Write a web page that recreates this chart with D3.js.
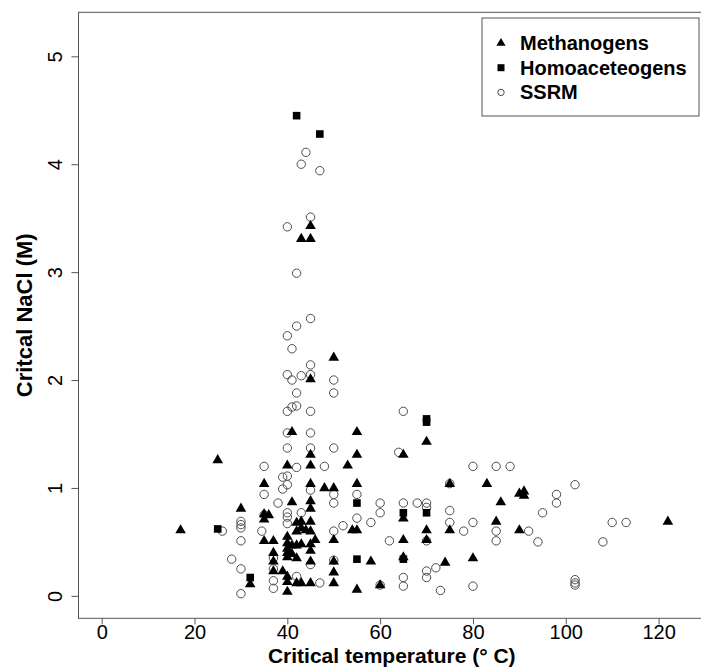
<!DOCTYPE html>
<html>
<head>
<meta charset="utf-8">
<script src="https://cdn.jsdelivr.net/npm/d3@7"></script>
<style>
  body { margin: 0; background: #fff; }
  svg text { font-family: "Liberation Sans", Arial, sans-serif; }
</style>
</head>
<body>
<svg id="chart" width="701" height="668"></svg>
<script>
// [critical temperature (C), critical NaCl (M)]
var methanogens = [
  [17, 0.61], [25, 1.26], [30, 0.81], [32, 0.11], [35, 1.04], [35, 0.76], [36, 0.75], [35, 0.71],
  [35, 0.51], [37, 0.51], [37, 0.40], [37, 0.32], [37, 0.23], [39, 0.23], [40, 1.21], [40, 0.55],
  [40, 0.49], [40, 0.44], [40, 0.40], [40, 0.36], [40, 0.18], [40, 0.13], [40, 0.04], [41, 1.52],
  [41, 0.87], [41, 0.47], [41, 0.39], [42, 0.68], [42, 0.60], [42, 0.47], [42, 0.35], [42, 0.12],
  [43, 3.31], [43, 0.69], [43, 0.63], [43, 0.48], [43, 0.12], [44, 0.61], [45, 3.43], [45, 3.31],
  [45, 2.01], [45, 1.31], [45, 1.21], [45, 1.04], [45, 0.88], [45, 0.81], [45, 0.69], [45, 0.60],
  [45, 0.48], [45, 0.42], [45, 0.32], [45, 0.12], [46, 0.52], [48, 1.00], [50, 2.21], [50, 1.00],
  [50, 0.52], [50, 0.32], [50, 0.22], [50, 0.12], [53, 1.21], [54, 0.61], [55, 1.52], [55, 1.31],
  [55, 1.04], [55, 0.61], [55, 0.06], [58, 0.32], [60, 0.10], [65, 1.31], [65, 0.72], [65, 0.52],
  [65, 0.36], [70, 1.43], [70, 0.61], [70, 0.52], [74, 0.31], [75, 1.04], [75, 0.61], [80, 0.35],
  [83, 1.04], [85, 0.69], [86, 0.87], [90, 0.95], [90, 0.61], [91, 0.97], [91, 0.93], [122, 0.69]
];

var homoacetogens = [
  [25, 0.62], [32, 0.17], [42, 4.45], [47, 4.28], [55, 0.86], [55, 0.34], [65, 0.77], [65, 0.34],
  [70, 1.64], [70, 1.61], [70, 0.77]
];

var ssrm = [
  [26, 0.60], [28, 0.34], [30, 0.69], [30, 0.66], [30, 0.63], [30, 0.51], [30, 0.25], [30, 0.02],
  [34.5, 0.60], [35, 1.20], [35, 0.94], [35, 0.75], [37, 0.35], [37, 0.25], [37, 0.14], [37, 0.07],
  [38, 0.86], [39, 1.10], [39, 0.99], [40, 3.42], [40, 2.41], [40, 2.05], [40, 1.71], [40, 1.51],
  [40, 1.37], [40, 1.11], [40, 1.03], [40, 0.77], [40, 0.73], [40, 0.67], [41, 2.29], [41, 2.00],
  [41, 1.75], [42, 2.99], [42, 2.50], [42, 1.88], [42, 1.76], [42, 1.19], [42, 0.18], [43, 4.00],
  [43, 2.04], [43, 0.77], [44, 4.11], [45, 3.51], [45, 2.57], [45, 2.14], [45, 2.05], [45, 1.71],
  [45, 1.51], [45, 1.37], [45, 0.98], [45, 0.29], [47, 3.94], [47, 0.12], [48, 1.20], [50, 2.00],
  [50, 1.88], [50, 1.37], [50, 0.94], [50, 0.86], [50, 0.60], [50, 0.33], [52, 0.65], [55, 0.94],
  [55, 0.72], [58, 0.68], [60, 0.86], [60, 0.77], [60, 0.10], [62, 0.51], [64, 1.33], [65, 1.71],
  [65, 0.86], [65, 0.17], [65, 0.09], [68, 0.86], [70, 0.86], [70, 0.82], [70, 0.51], [70, 0.23],
  [70, 0.17], [72, 0.26], [73, 0.05], [75, 1.04], [75, 0.79], [75, 0.68], [78, 0.60], [80, 1.20],
  [80, 0.68], [80, 0.09], [85, 1.20], [85, 0.60], [85, 0.51], [88, 1.20], [92, 0.60], [94, 0.50],
  [95, 0.77], [98, 0.94], [98, 0.86], [102, 1.03], [102, 0.15], [102, 0.12], [102, 0.10], [108, 0.50],
  [110, 0.68], [113, 0.68]
];

var xTicks = [0, 20, 40, 60, 80, 100, 120];
var yTicks = [0, 1, 2, 3, 4, 5];
var legendLabels = ["Methanogens", "Homoaceteogens", "SSRM"];

var svg = d3.select("#chart");
var frameColor = "#555";

// plot region (right side runs past the picture edge, like the original)
var x = d3.scaleLinear().domain([-5, 130]).range([78.5, 705]);
var y = d3.scaleLinear().domain([-0.208, 5.408]).range([618.3, 12.3]);

// triangle marker
function triPath(cx, cy, s) {
  return "M" + (cx - s) + "," + (cy + s * 0.62) + "L" + (cx + s) + "," + (cy + s * 0.62) +
    "L" + cx + "," + (cy - s * 1.1) + "Z";
}

// axes
var xAxis = svg.append("g")
  .attr("transform", "translate(0,618.3)")
  .call(d3.axisBottom(x).tickValues(xTicks).tickSize(6).tickPadding(4).tickFormat(d3.format("d")));
var yAxis = svg.append("g")
  .attr("transform", "translate(78.5,0)")
  .call(d3.axisLeft(y).tickValues(yTicks).tickSize(7).tickFormat(d3.format("d")));

[xAxis, yAxis].forEach(function (g) {
  g.select(".domain").remove();
  g.selectAll(".tick line").attr("stroke", frameColor);
  g.selectAll(".tick text").attr("fill", "#000").style("font-size", "20px");
});
xAxis.selectAll(".tick text").attr("y", 21.2).attr("dy", null);
yAxis.selectAll(".tick text")
  .attr("x", null).attr("dy", null)
  .attr("text-anchor", "middle")
  .attr("transform", "translate(-17,0) rotate(-90)");

// frame
svg.append("rect")
  .attr("x", x.range()[0]).attr("y", y.range()[1])
  .attr("width", x.range()[1] - x.range()[0])
  .attr("height", y.range()[0] - y.range()[1])
  .attr("fill", "none").attr("stroke", frameColor).attr("stroke-width", 1);

// points: circles first, then triangles, then squares
var pts = svg.append("g");
pts.selectAll("circle.ssrm").data(ssrm).enter().append("circle")
  .attr("class", "ssrm")
  .attr("cx", function (d) { return x(d[0]); })
  .attr("cy", function (d) { return y(d[1]); })
  .attr("r", 4.2)
  .attr("fill", "none").attr("stroke", "#4d4d4d").attr("stroke-width", 1);

pts.selectAll("path.meth").data(methanogens).enter().append("path")
  .attr("class", "meth")
  .attr("d", function (d) { return triPath(x(d[0]), y(d[1]), 5.3); })
  .attr("fill", "#000");

pts.selectAll("rect.homo").data(homoacetogens).enter().append("rect")
  .attr("class", "homo")
  .attr("x", function (d) { return x(d[0]) - 3.8; })
  .attr("y", function (d) { return y(d[1]) - 3.8; })
  .attr("width", 7.6).attr("height", 7.6)
  .attr("fill", "#000");

// axis titles
svg.append("text")
  .attr("x", (x.range()[0] + x.range()[1]) / 2).attr("y", 662.5)
  .attr("text-anchor", "middle")
  .style("font-size", "21px").style("font-weight", "bold")
  .text("Critical temperature (\u00B0 C)");

svg.append("text")
  .attr("transform", "translate(32," + (y.range()[0] + y.range()[1]) / 2 + ") rotate(-90)")
  .attr("text-anchor", "middle")
  .style("font-size", "22px").style("font-weight", "bold")
  .text("Critcal NaCl (M)");

// legend
var legend = svg.append("g").attr("transform", "translate(482,18)");
legend.append("rect")
  .attr("width", 217).attr("height", 98)
  .attr("fill", "#fff").attr("stroke", frameColor).attr("stroke-width", 1);

var rows = legend.selectAll("g.row").data(legendLabels).enter().append("g")
  .attr("class", "row")
  .attr("transform", function (d, i) { return "translate(0," + (25 + i * 24.7) + ")"; });

rows.each(function (d, i) {
  var g = d3.select(this);
  if (i === 0) {
    g.append("path").attr("d", triPath(19, 0, 4.6)).attr("fill", "#000");
  } else if (i === 1) {
    g.append("rect").attr("x", 15.5).attr("y", -3.5).attr("width", 7).attr("height", 7).attr("fill", "#000");
  } else {
    g.append("circle").attr("cx", 19).attr("cy", 0).attr("r", 3.2)
      .attr("fill", "none").attr("stroke", "#4d4d4d").attr("stroke-width", 1);
  }
  g.append("text").attr("x", 38).attr("y", 7)
    .style("font-size", "20px").style("font-weight", "bold")
    .text(d);
});
</script>
</body>
</html>
